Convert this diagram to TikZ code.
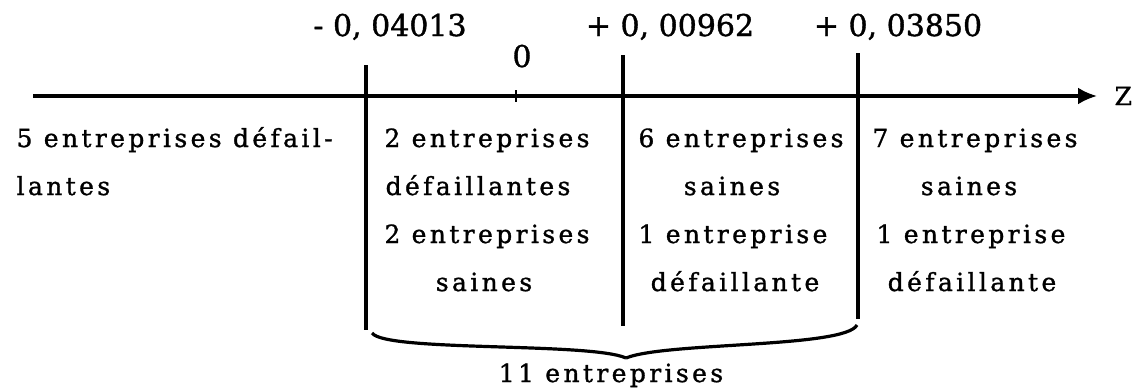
\documentclass[tikz,border=0pt]{standalone}
\usepackage{fontspec}
\setmainfont{DejaVu Serif}[FakeBold=1.2]
\newfontfamily\spaced{DejaVu Serif}[LetterSpace=13.5,FakeBold=1.2]
\usetikzlibrary{arrows.meta}

\begin{document}
\begin{tikzpicture}[x=1pt, y=-1pt, line width=3.2pt,
    txt/.style={font=\spaced\fontsize{25}{30}\selectfont, inner sep=0pt, anchor=base},
    num/.style={font=\fontsize{30}{36}\selectfont, inner sep=0pt, anchor=base}]
    \useasboundingbox (0,0) rectangle (1139,388);

    % axe Z
    \coordinate (z0) at (33,96);
    \coordinate (z1) at (1097,96);
    \draw[-{Latex[length=19pt,width=17pt]}] (z0) -- (z1);
    \node[txt, anchor=base west] (zl) at (1113,105) {Z};

    % seuils
    \coordinate (s1t) at (366,65);
    \coordinate (s1b) at (366,330);
    \coordinate (s2t) at (623,55);
    \coordinate (s2b) at (623,326);
    \coordinate (s3t) at (858,53);
    \coordinate (s3b) at (858,319);
    \draw (s1t) -- (s1b);
    \draw (s2t) -- (s2b);
    \draw (s3t) -- (s3b);

    \coordinate (t0a) at (516,90);
    \coordinate (t0b) at (516,102);
    \draw[line width=2.4pt] (t0a) -- (t0b);

    \node[num] (v1) at (390,36) {- 0, 04013};
    \node[num] (v0) at (522,67) {0};
    \node[num] (v2) at (670,36) {+ 0, 00962};
    \node[num] (v3) at (898,36) {+ 0, 03850};

    % classes
    \node[txt, anchor=base west] (c1a) at (15,147) {5 entreprises défail-};
    \node[txt, anchor=base west] (c1b) at (15,195) {lantes};

    \node[txt] (c2a) at (487,147) {2 entreprises};
    \node[txt] (c2b) at (478,195) {défaillantes};
    \node[txt] (c2c) at (487,243) {2 entreprises};
    \node[txt] (c2d) at (484,291) {saines};

    \node[txt] (c3a) at (741,147) {6 entreprises};
    \node[txt] (c3b) at (732,195) {saines};
    \node[txt] (c3c) at (733,243) {1 entreprise};
    \node[txt] (c3d) at (735,291) {défaillante};

    \node[txt] (c4a) at (975,147) {7 entreprises};
    \node[txt] (c4b) at (969,195) {saines};
    \node[txt] (c4c) at (971,243) {1 entreprise};
    \node[txt] (c4d) at (972,291) {défaillante};

    % accolade
    \coordinate (bl) at (372,333);
    \coordinate (tip) at (626,358);
    \coordinate (br) at (857,325);
    \draw (bl) .. controls (385,352) and (590,342) .. (tip);
    \draw (tip) .. controls (665,342) and (845,348) .. (br);

    \node[txt] (tot) at (611,382) {11 entreprises};
\end{tikzpicture}
\end{document}
